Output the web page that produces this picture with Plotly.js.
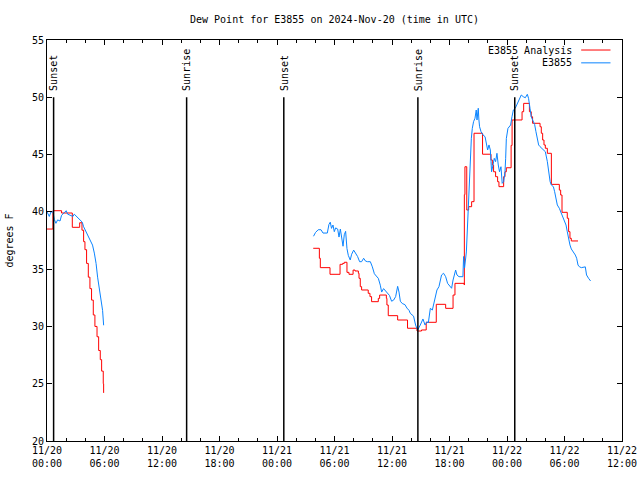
<!DOCTYPE html>
<html>
<head>
<meta charset="utf-8">
<script src="https://cdn.plot.ly/plotly-3.0.1.min.js"></script>
<style>html,body{margin:0;padding:0;background:#fff;}#chart{width:640px;height:480px;}</style>
</head>
<body>
<div id="chart"></div>
<script>
// Hours since 2024-11-20 00:00 UTC; null value = data gap
const analysisHours = [0.0,0.62,1.52,2.64,3.41,3.65,3.82,3.96,4.13,4.31,4.48,4.65,4.83,5.00,5.22,5.39,5.56,5.70,5.87,5.91,
  12.0,
  27.78,28.42,28.52,29.53,30.58,30.85,31.02,31.30,31.51,31.94,32.14,32.49,32.56,32.69,32.83,33.52,33.70,33.87,34.57,34.71,
  35.41,35.47,35.61,36.59,37.62,38.61,39.08,39.57,40.62,41.60,42.37,42.57,43.54,43.55,43.61,43.80,44.00,44.31,44.56,45.45,
  46.33,46.47,46.60,46.81,47.02,47.16,47.65,47.79,47.93,48.43,48.53,49.57,49.74,50.34,50.53,50.67,51.45,51.58,51.72,51.86,
  52.00,52.21,52.63,53.46,53.60,53.74,54.29,54.43,54.57,54.71,55.41];
const analysisValues = [38.5,40.1,39.9,38.65,39.05,38.4,37.4,36.7,35.5,34.3,33.3,32.3,31.0,30.0,29.1,27.9,27.1,26.1,25.0,24.2,
  null,
  36.82,35.95,35.13,34.55,35.42,35.5,35.6,34.72,34.55,34.92,34.84,34.64,34.2,33.47,33.18,32.89,32.6,32.16,32.45,32.74,
  32.45,31.87,30.94,30.56,29.84,29.6,29.69,30.36,31.93,31.58,32.74,33.76,33.62,41.5,43.94,40.16,40.45,40.89,46.86,45.03,
  44.53,44.09,43.5,43.07,42.63,42.2,43.07,43.5,43.85,45.8,48.02,48.74,49.47,48.74,48.3,47.73,47.43,46.86,46.27,45.84,
  45.55,45.11,42.4,41.9,41.47,39.96,39.44,38.27,37.69,37.46,37.46];

const obsHours = [0.0,0.24,0.41,0.62,0.76,0.93,1.11,1.36,1.52,1.80,2.01,2.15,2.43,2.71,2.84,3.09,3.30,3.55,3.68,3.82,4.07,4.41,4.75,4.94,5.12,5.28,5.46,5.63,5.80,5.91,
  12.0,
  27.81,28.02,28.30,28.59,28.80,29.25,29.42,29.56,29.69,29.84,29.98,30.12,30.33,30.47,30.61,30.74,30.89,31.02,31.16,31.30,
  31.44,31.64,31.79,32.00,32.20,32.41,32.62,32.83,33.04,33.24,33.45,33.74,33.95,34.16,34.36,34.57,34.78,34.92,35.12,35.33,
  35.54,35.74,35.96,36.17,36.38,36.59,36.73,36.87,37.07,37.35,37.56,37.78,37.91,38.05,38.25,38.46,38.67,38.95,39.23,39.45,
  39.66,39.79,40.00,40.21,40.34,40.55,40.69,40.90,41.04,41.17,41.38,41.60,41.80,41.95,42.22,42.37,42.50,42.64,42.78,42.99,
  43.20,43.40,43.47,43.57,43.76,43.83,43.89,44.00,44.10,44.17,44.28,44.38,44.51,44.66,44.79,44.87,45.00,45.07,45.14,45.29,
  45.50,45.71,45.84,45.98,46.12,46.26,46.33,46.39,46.54,46.67,46.81,46.95,47.09,47.22,47.37,47.43,47.50,47.65,47.79,47.86,
  47.93,48.10,48.38,48.52,48.66,48.86,49.07,49.28,49.49,49.70,49.91,50.12,50.25,50.40,50.53,50.67,50.88,51.02,51.16,51.30,
  51.45,51.65,51.86,52.00,52.21,52.34,52.50,52.63,52.84,52.97,53.12,53.25,53.46,53.60,53.74,53.88,54.01,54.16,54.29,54.43,
  54.57,54.71,54.91,55.13,55.27,55.41,55.55,55.76,56.17,56.30,56.51,56.72];
const obsValues = [40.0,39.6,40.0,40.0,39.35,39.0,39.3,39.2,39.7,39.9,40.1,39.8,39.7,39.6,39.8,39.6,39.35,39.2,39.1,38.7,38.3,37.7,37.1,36.4,35.5,34.3,33.2,32.3,31.4,30.1,
  null,
  37.87,38.2,38.44,38.44,38.15,38.15,38.9,39.1,38.56,38.85,38.27,38.6,38.5,37.8,38.5,37.7,37.0,38.0,38.3,36.8,
  36.2,35.8,36.3,36.66,36.4,36.1,35.65,35.65,35.95,35.7,35.65,35.65,35.2,34.6,34.4,34.2,33.6,33.0,33.3,33.1,
  32.9,32.7,32.2,32.3,32.6,33.5,33.0,32.2,32.0,31.9,31.6,31.4,31.14,31.0,30.9,30.12,29.69,30.12,30.65,30.12,
  30.41,30.3,31.58,31.43,31.87,32.74,33.18,33.47,33.9,34.49,34.64,34.34,33.76,33.61,33.33,34.05,34.49,34.92,34.49,34.34,
  34.34,34.34,36.1,35.1,36.5,38.0,39.14,40.89,42.34,44.38,46.42,47.29,47.87,48.17,48.89,48.02,49.04,48.02,47.43,47.0,
  46.71,46.56,45.84,45.4,45.84,45.4,44.38,43.5,44.09,44.67,44.38,45.11,44.09,43.5,43.94,42.93,42.49,42.63,43.5,44.67,
  46.4,47.29,47.58,48.3,48.89,49.04,49.47,49.76,50.2,50.05,49.96,50.26,49.91,49.04,48.3,48.02,47.64,47.0,46.42,45.84,
  45.69,45.55,45.4,45.25,44.38,43.5,42.63,42.34,42.2,41.76,41.18,40.6,40.31,40.01,39.73,39.44,39.14,38.85,38.27,37.54,
  37.11,36.76,36.52,36.23,35.95,35.36,35.21,35.13,35.2,34.49,34.2,33.97];

const eventHours = [0.69, 14.57, 24.71, 38.70, 48.81];
const eventLabels = ['Sunset','Sunrise','Sunset','Sunrise','Sunset'];
const seriesNames = ['E3855 Analysis','E3855'];
const seriesColors = ['#ff0000','#0a84ff'];
const xStartHour = 0, xEndHour = 60;
const yMin = 20, yMax = 55, eventTop = 50;

function toDate(h){
  const d = new Date(Date.UTC(2024,10,20) + Math.round(h*3600000));
  return d.toISOString().slice(0,19).replace('T',' ');
}

const font = {family:'DejaVu Sans Mono, monospace', size:10, color:'#000'};

const traces = [
  {x: analysisHours.map(toDate), y: analysisValues, type:'scatter', mode:'lines', name:seriesNames[0],
   line:{color:seriesColors[0], width:1, shape:'hv'}, connectgaps:false},
  {x: obsHours.map(toDate), y: obsValues, type:'scatter', mode:'lines', name:seriesNames[1],
   line:{color:seriesColors[1], width:1}, connectgaps:false}
];

const shapes = eventHours.map(h => ({type:'line', xref:'x', yref:'y', x0:toDate(h), x1:toDate(h), y0:yMin, y1:eventTop,
  line:{color:'#000', width:1.5}}));
const annotations = eventHours.map((h,i) => ({x:toDate(h), y:eventTop, xref:'x', yref:'y', text:eventLabels[i],
  showarrow:false, textangle:-90, yanchor:'bottom', xanchor:'center', yshift:4, font:font}));

// custom legend (text left of line sample, as in the reference)
const legY = [0.975, 0.943];
seriesNames.forEach((n,i) => {
  annotations.push({xref:'paper', yref:'paper', x:0.916, y:legY[i], text:n, showarrow:false,
    xanchor:'right', yanchor:'middle', font:font});
  shapes.push({type:'line', xref:'paper', yref:'paper', x0:0.929, x1:0.98, y0:legY[i], y1:legY[i],
    line:{color:seriesColors[i], width:1}});
});

const layout = {
  width:640, height:480,
  margin:{l:47, r:18, t:40, b:39},
  paper_bgcolor:'#fff', plot_bgcolor:'#fff',
  showlegend:false,
  font:font,
  title:{text:'Dew Point for E3855 on 2024-Nov-20 (time in UTC)', font:font, x:0.5, xref:'paper',
    y:1-19/480, yref:'container', yanchor:'middle', xanchor:'center'},
  xaxis:{type:'date', range:[toDate(xStartHour), toDate(xEndHour)], tick0:toDate(0), dtick:6*3600000,
    tickformat:'%m/%d<br>%H:%M', ticks:'inside', ticklen:5, tickcolor:'#000', tickwidth:1,
    showline:true, linecolor:'#000', linewidth:1, mirror:'ticks', showgrid:false, zeroline:false,
    tickfont:font,
    minor:{dtick:2*3600000, tick0:toDate(0), ticks:'inside', ticklen:3, tickcolor:'#000', showgrid:false}},
  yaxis:{range:[yMin,yMax], tick0:20, dtick:5, ticks:'inside', ticklen:5, tickcolor:'#000', tickwidth:1,
    showline:true, linecolor:'#000', linewidth:1, mirror:'ticks', showgrid:false, zeroline:false,
    tickfont:font, title:{text:'degrees F', font:font, standoff:16}},
  shapes:shapes, annotations:annotations
};

Plotly.newPlot('chart', traces, layout, {displayModeBar:false, staticPlot:true});
</script>
</body>
</html>
